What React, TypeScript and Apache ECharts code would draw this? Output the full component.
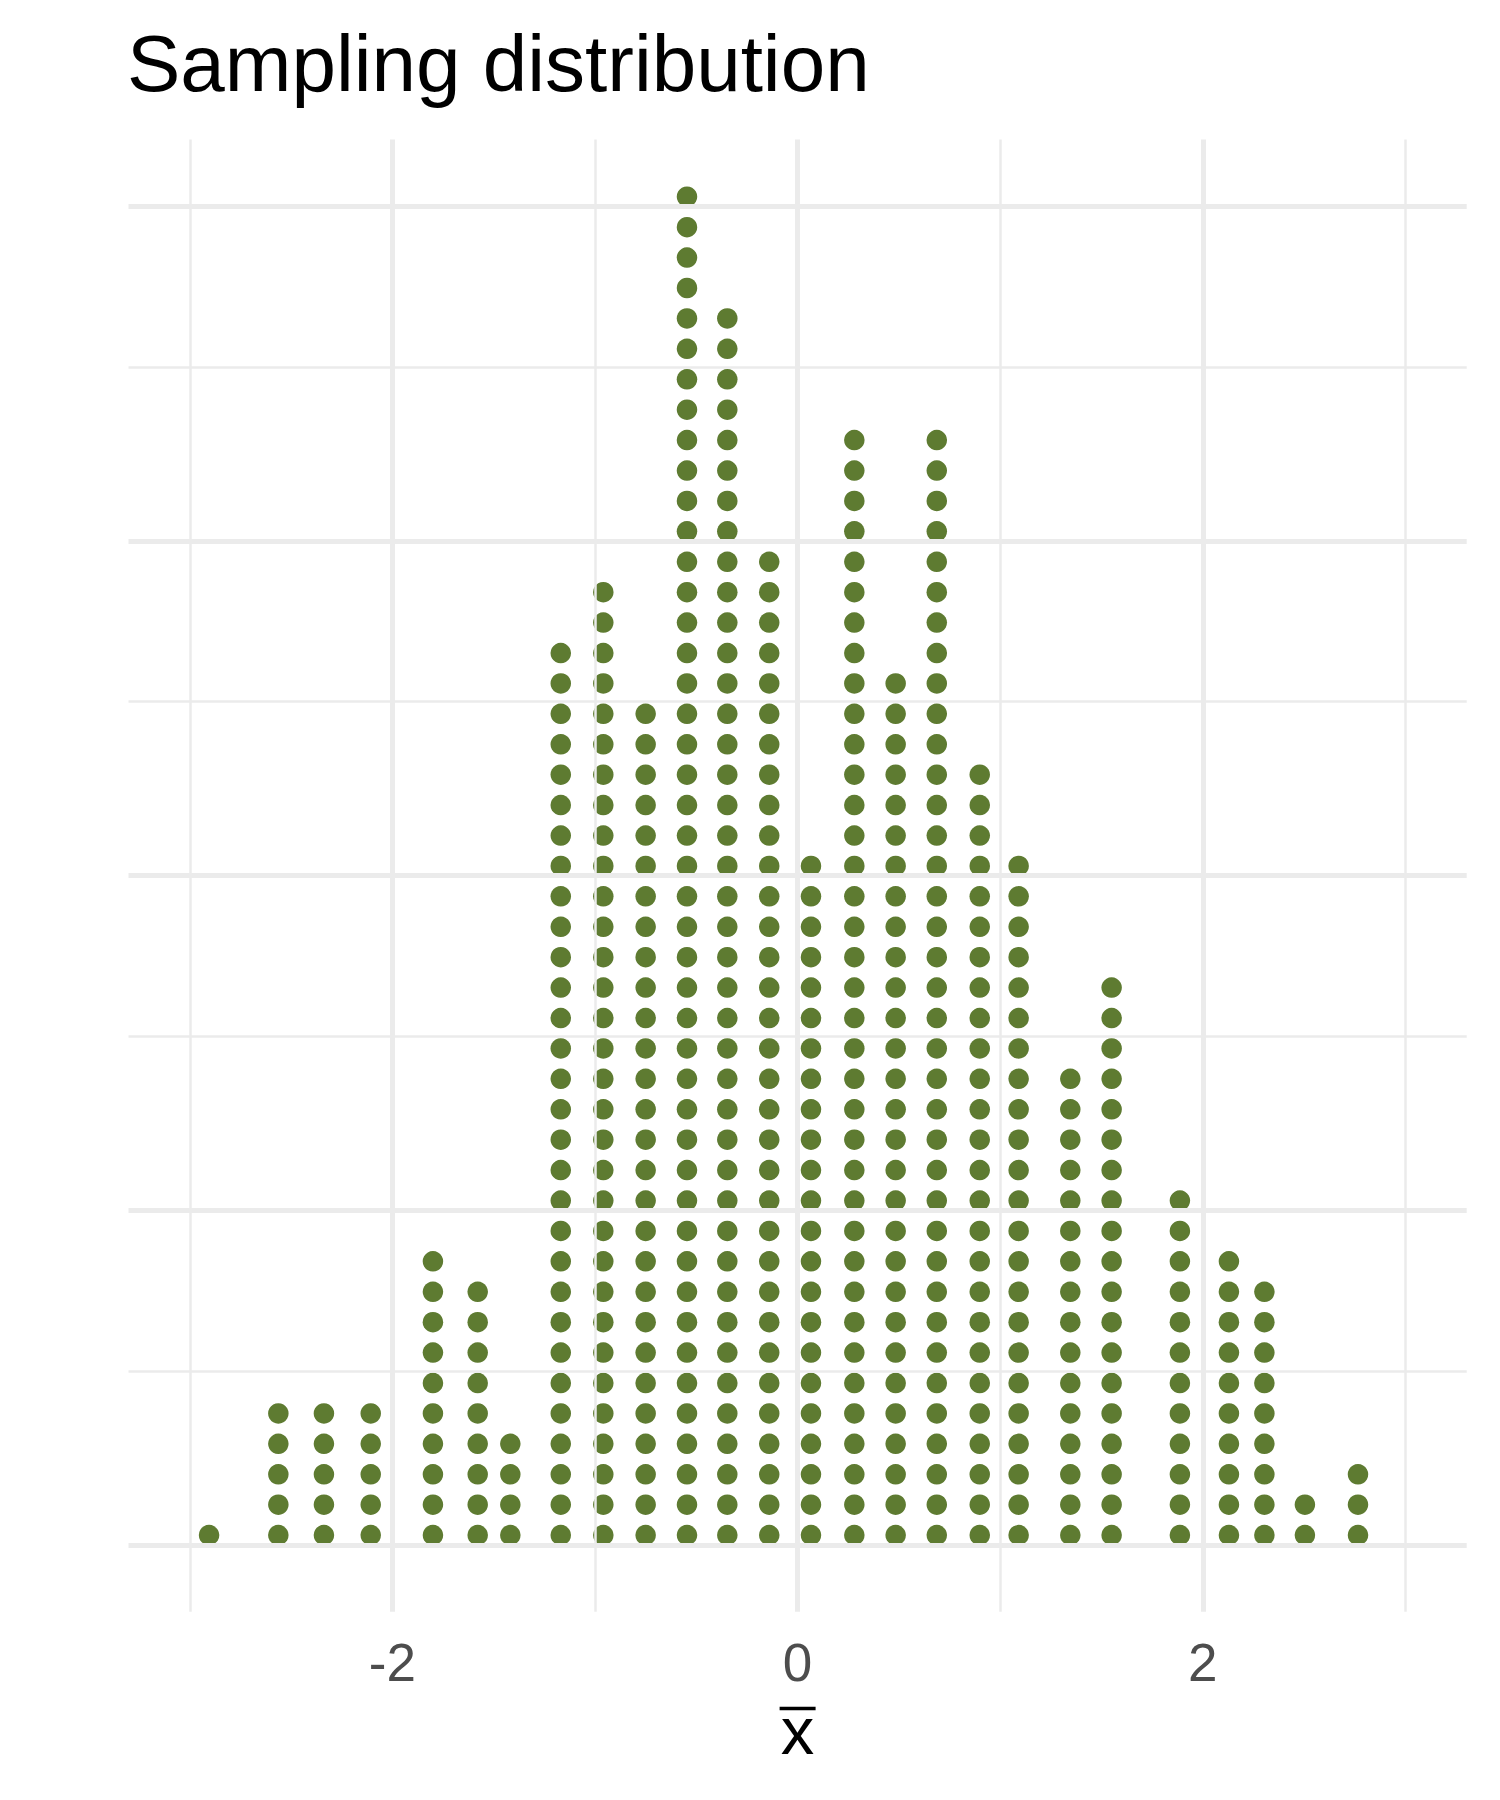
import React, { useEffect, useRef } from "react";
import * as echarts from "echarts";

// Dot-plot bins (x centre of each stack) and number of stacked dots
const binCenters = [
  -2.905, -2.563, -2.338, -2.107, -1.8, -1.579, -1.418, -1.169, -0.959, -0.75,
  -0.546, -0.347, -0.14, 0.066, 0.28, 0.484, 0.687, 0.899, 1.091, 1.346, 1.55,
  1.887, 2.129, 2.304, 2.504, 2.766,
];
const binCounts = [
  1, 5, 5, 5, 10, 9, 4, 30, 32, 28, 45, 41, 33, 23, 37, 29, 37, 26, 23, 16, 19,
  12, 10, 9, 2, 3,
];

const xTickLabels = [-2, 0, 2];
const xMajorGrid = [-2, 0, 2];
const xMinorGrid = [-3, -1, 1, 3];
const yMajorGrid = [0, 0.25, 0.5, 0.75, 1];
const yMinorGrid = [0.125, 0.375, 0.625, 0.875];

const titleText = "Sampling distribution";
const xAxisLetter = "x";

// styling / layout constants
const DOT_BASE = 0.0073;
const DOT_STEP = 1 / 44;
const FONT = "'Liberation Sans', Arial, Helvetica, sans-serif";
const GRID_COLOR = "#EBEBEB";
const DOT_COLOR = "#5E7B31";

export default function App() {
  const ref = useRef<HTMLDivElement>(null);

  useEffect(() => {
    if (!ref.current) return;
    const chart = echarts.init(ref.current, null, { renderer: "svg" });

    const dots: number[][] = [];
    binCenters.forEach((x, i) => {
      for (let k = 0; k < binCounts[i]; k++) {
        dots.push([x, DOT_BASE + k * DOT_STEP]);
      }
    });

    const gl = (w: number) => ({ width: w, color: GRID_COLOR, type: "solid" as const });
    const gridLines = [
      ...yMinorGrid.map((v) => ({ yAxis: v, lineStyle: gl(2.5) })),
      ...xMinorGrid.map((v) => ({ xAxis: v, lineStyle: gl(2.5) })),
      ...yMajorGrid.map((v) => ({ yAxis: v, lineStyle: gl(5) })),
      ...xMajorGrid.map((v) => ({ xAxis: v, lineStyle: gl(5) })),
    ];

    chart.setOption({
      animation: false,
      backgroundColor: "#ffffff",
      title: {
        text: titleText,
        left: 127,
        top: 23,
        padding: 0,
        textStyle: {
          fontFamily: FONT,
          fontSize: 80,
          fontWeight: "normal",
          color: "#000000",
        },
      },
      grid: {
        left: 128.5,
        right: 33.3,
        top: 139.6,
        bottom: 188.2,
        containLabel: false,
        outerBoundsMode: "none",
      },
      xAxis: {
        type: "value",
        min: -3.3026,
        max: 3.3026,
        axisLine: { show: false },
        axisTick: { show: false },
        splitLine: { show: false },
        axisLabel: {
          customValues: xTickLabels,
          margin: 24,
          fontFamily: FONT,
          fontSize: 53,
          color: "#4D4D4D",
        },
        // x with an overbar (x̄): the bar is a rich-text segment above the letter
        name: "{bar| }\n{x|" + xAxisLetter + "}",
        nameLocation: "middle",
        nameGap: 95,
        nameTextStyle: {
          fontFamily: FONT,
          fontSize: 67,
          color: "#000000",
          align: "center",
          rich: {
            bar: {
              width: 36,
              height: 3.5,
              lineHeight: 3.5,
              fontSize: 2,
              backgroundColor: "#000000",
            },
            x: {
              fontFamily: FONT,
              fontSize: 67,
              lineHeight: 40,
              color: "#000000",
            },
          },
        },
      },
      yAxis: {
        type: "value",
        min: -0.05,
        max: 1.05,
        axisLine: { show: false },
        axisTick: { show: false },
        splitLine: { show: false },
        axisLabel: { show: false },
      },
      series: [
        {
          type: "scatter",
          data: [],
          z: 1,
          silent: true,
          markLine: {
            silent: true,
            symbol: ["none", "none"],
            label: { show: false },
            emphasis: { disabled: true },
            data: gridLines,
          },
        },
        {
          type: "scatter",
          z: 3,
          data: dots,
          symbol: "circle",
          symbolSize: 20.5,
          itemStyle: { color: DOT_COLOR, opacity: 1 },
          silent: true,
        },
      ],
    });

    return () => {
      chart.dispose();
    };
  }, []);

  return (
    <div
      ref={ref}
      style={{
        position: "absolute",
        left: 0,
        top: 0,
        width: 1500,
        height: 1800,
        background: "#ffffff",
      }}
    />
  );
}
